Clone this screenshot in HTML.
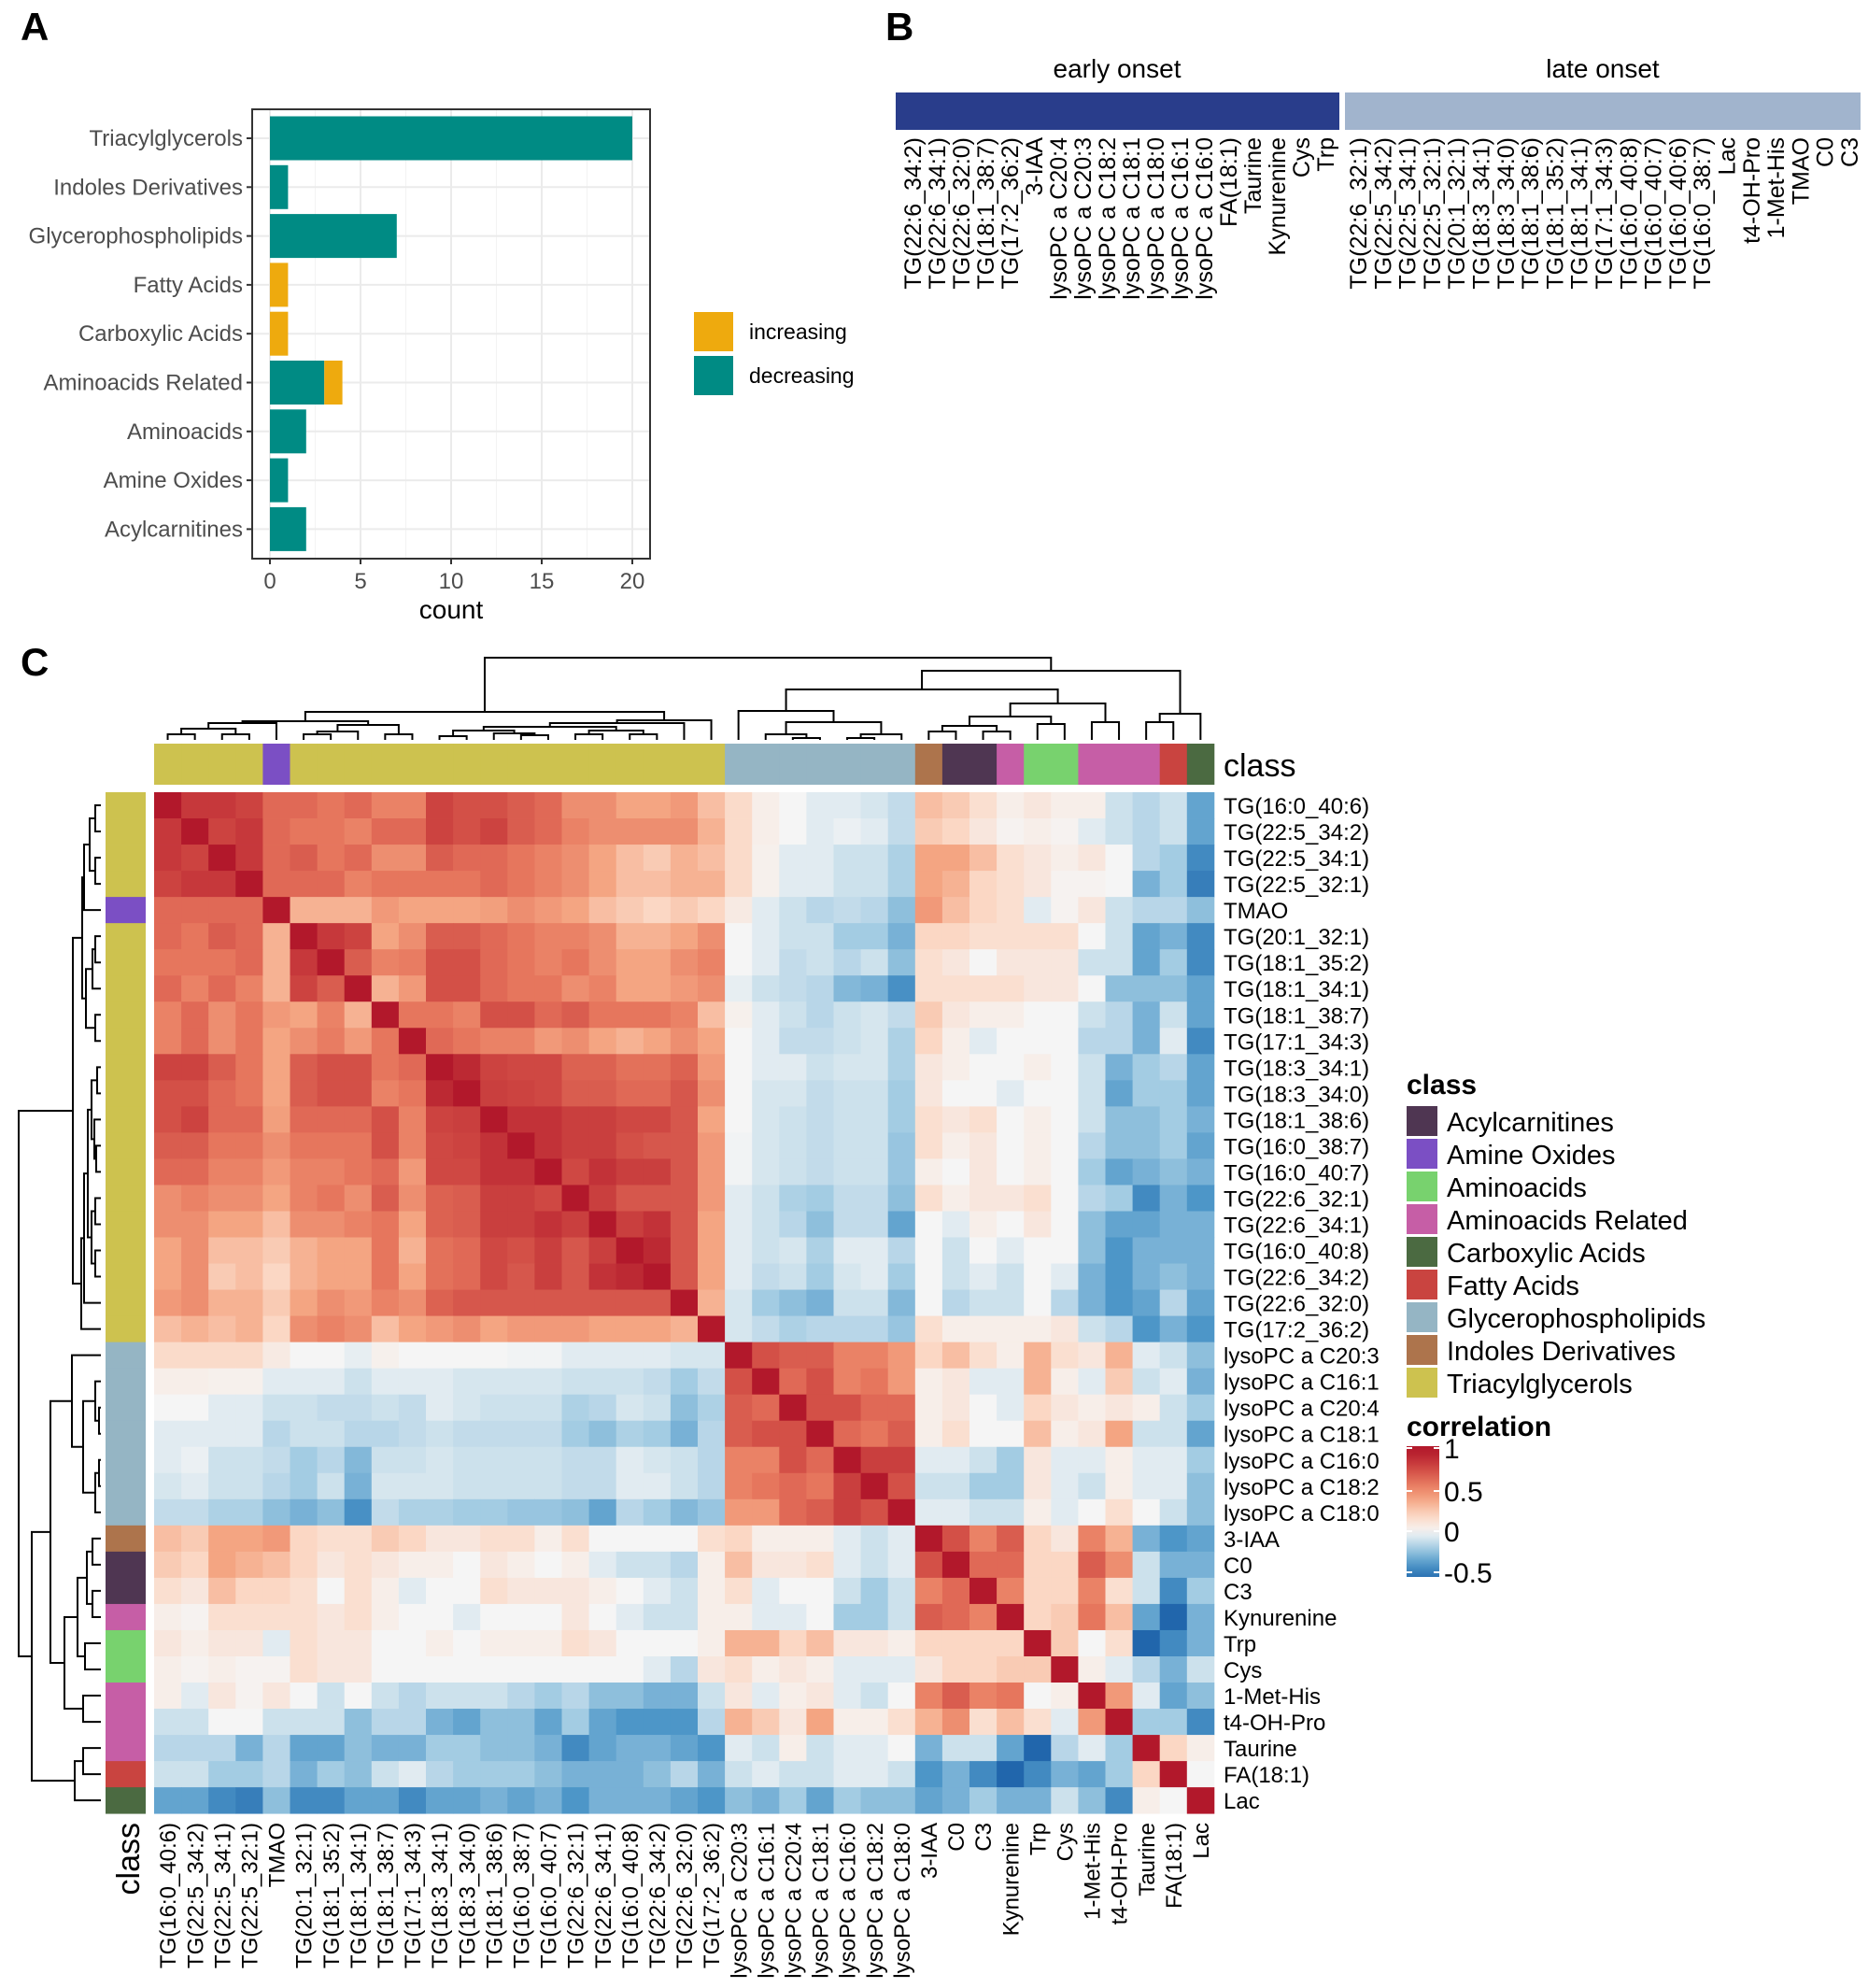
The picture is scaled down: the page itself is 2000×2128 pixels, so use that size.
<!DOCTYPE html>
<html><head><meta charset="utf-8"><style>
html,body{margin:0;padding:0;background:#fff}
svg{display:block}
text{font-family:"Liberation Sans",Arial,sans-serif}
</style></head><body>
<svg id="s" width="2000" height="2128" viewBox="0 0 2000 2128" xmlns="http://www.w3.org/2000/svg">
<rect width="2000" height="2128" fill="#fff"/>
<text x="22" y="43" font-size="42" font-weight="bold">A</text>
<text x="948" y="43" font-size="42" font-weight="bold">B</text>
<text x="22" y="723" font-size="42" font-weight="bold">C</text>
<g id="A"></g>
<g id="B"></g>
<g id="C"></g>
</svg>
<script>
const NS="http://www.w3.org/2000/svg";
function el(parent,tag,attrs,txt){const e=document.createElementNS(NS,tag);for(const k in attrs)e.setAttribute(k,attrs[k]);if(txt!==undefined)e.textContent=txt;parent.appendChild(e);return e;}
// ---------- Panel A ----------
const A=document.getElementById('A');
const px0=270,px1=696,py0=117,py1=598;
const xs=v=>289+v*19.4;
el(A,'rect',{x:px0,y:py0,width:px1-px0,height:py1-py0,fill:'#fff'});
for(let v=0;v<=20;v+=2.5){el(A,'line',{x1:xs(v),x2:xs(v),y1:py0,y2:py1,stroke:(v%5==0)?'#ebebeb':'#f3f3f3','stroke-width':(v%5==0)?2:1});}
const cats=[["Triacylglycerols",20,0],["Indoles Derivatives",1,0],["Glycerophospholipids",7,0],["Fatty Acids",0,1],["Carboxylic Acids",0,1],["Aminoacids Related",3,1],["Aminoacids",2,0],["Amine Oxides",1,0],["Acylcarnitines",2,0]];
cats.forEach((c,k)=>{const cy=148+k*52.3;
 el(A,'line',{x1:px0,x2:px1,y1:cy,y2:cy,stroke:'#ebebeb','stroke-width':2});
});
cats.forEach((c,k)=>{const cy=148+k*52.3;
 if(c[1]>0)el(A,'rect',{x:xs(0),y:cy-23.5,width:c[1]*19.4,height:47,fill:'#008b84'});
 if(c[2]>0)el(A,'rect',{x:xs(c[1]),y:cy-23.5,width:c[2]*19.4,height:47,fill:'#eeaa0e'});
 el(A,'line',{x1:px0-6,x2:px0,y1:cy,y2:cy,stroke:'#333','stroke-width':2});
 el(A,'text',{x:px0-10,y:cy+8,'font-size':24,'text-anchor':'end',fill:'#4d4d4d'},c[0]);
});
el(A,'rect',{x:px0,y:py0,width:px1-px0,height:py1-py0,fill:'none',stroke:'#333','stroke-width':2});
[0,5,10,15,20].forEach(v=>{el(A,'line',{x1:xs(v),x2:xs(v),y1:py1,y2:py1+6,stroke:'#333','stroke-width':2});
 el(A,'text',{x:xs(v),y:630,'font-size':24,'text-anchor':'middle',fill:'#4d4d4d'},v);});
el(A,'text',{x:483,y:662,'font-size':28,'text-anchor':'middle'},'count');
el(A,'rect',{x:743,y:334,width:42,height:42,fill:'#eeaa0e'});
el(A,'rect',{x:743,y:381,width:42,height:42,fill:'#008b84'});
el(A,'text',{x:802,y:363,'font-size':23},'increasing');
el(A,'text',{x:802,y:410,'font-size':23},'decreasing');
// ---------- Panel B ----------
const B=document.getElementById('B');
el(B,'rect',{x:959,y:99,width:475,height:40,fill:'#293d8b'});
el(B,'rect',{x:1440,y:99,width:552,height:40,fill:'#a1b4cd'});
el(B,'text',{x:1196,y:83,'font-size':28,'text-anchor':'middle'},'early onset');
el(B,'text',{x:1716,y:83,'font-size':28,'text-anchor':'middle'},'late onset');
const early=["TG(22:6_34:2)","TG(22:6_34:1)","TG(22:6_32:0)","TG(18:1_38:7)","TG(17:2_36:2)","3-IAA","lysoPC a C20:4","lysoPC a C20:3","lysoPC a C18:2","lysoPC a C18:1","lysoPC a C18:0","lysoPC a C16:1","lysoPC a C16:0","FA(18:1)","Taurine","Kynurenine","Cys","Trp"];
const late=["TG(22:6_32:1)","TG(22:5_34:2)","TG(22:5_34:1)","TG(22:5_32:1)","TG(20:1_32:1)","TG(18:3_34:1)","TG(18:3_34:0)","TG(18:1_38:6)","TG(18:1_35:2)","TG(18:1_34:1)","TG(17:1_34:3)","TG(16:0_40:8)","TG(16:0_40:7)","TG(16:0_40:6)","TG(16:0_38:7)","Lac","t4-OH-Pro","1-Met-His","TMAO","C0","C3"];
function vlab(g,x,y,t,fs){el(g,'text',{x:0,y:0,'font-size':fs,'text-anchor':'end',transform:`translate(${x+fs*0.36},${y}) rotate(-90)`},t);}
early.forEach((t,i)=>vlab(B,977+i*26,147,t,25));
late.forEach((t,i)=>vlab(B,1454+i*26.3,147,t,25));
// ---------- Panel C ----------
const C=document.getElementById('C');
const names=["TG(16:0_40:6)","TG(22:5_34:2)","TG(22:5_34:1)","TG(22:5_32:1)","TMAO","TG(20:1_32:1)","TG(18:1_35:2)","TG(18:1_34:1)","TG(18:1_38:7)","TG(17:1_34:3)","TG(18:3_34:1)","TG(18:3_34:0)","TG(18:1_38:6)","TG(16:0_38:7)","TG(16:0_40:7)","TG(22:6_32:1)","TG(22:6_34:1)","TG(16:0_40:8)","TG(22:6_34:2)","TG(22:6_32:0)","TG(17:2_36:2)","lysoPC a C20:3","lysoPC a C16:1","lysoPC a C20:4","lysoPC a C18:1","lysoPC a C16:0","lysoPC a C18:2","lysoPC a C18:0","3-IAA","C0","C3","Kynurenine","Trp","Cys","1-Met-His","t4-OH-Pro","Taurine","FA(18:1)","Lac"];
const COL={TG:'#cdc24f',AO:'#7b4fc4',GP:'#95b5c4',ID:'#ad744c',AC:'#4f3652',AR:'#c65ea6',AA:'#78d26e',FA:'#c94440',CA:'#4b6a41'};
const cls=[];for(let i=0;i<39;i++){cls.push(i==4?'AO':i<21?'TG':i<28?'GP':i==28?'ID':(i==29||i==30)?'AC':i==31?'AR':(i==32||i==33)?'AA':(i<=36)?'AR':i==37?'FA':'CA');}
const TGTG=[
[1,.85,.85,.8,.65,.65,.6,.65,.55,.55,.8,.75,.75,.7,.65,.5,.5,.4,.4,.45,.3],
[.85,1,.8,.85,.65,.6,.6,.55,.65,.65,.8,.75,.8,.7,.65,.55,.5,.5,.5,.5,.35],
[.85,.8,1,.85,.65,.7,.6,.65,.5,.5,.7,.65,.65,.6,.55,.5,.4,.3,.25,.35,.3],
[.8,.85,.85,1,.65,.65,.65,.55,.6,.6,.6,.6,.65,.6,.55,.5,.4,.3,.3,.35,.35],
[.65,.65,.65,.65,1,.35,.35,.35,.45,.4,.4,.4,.4,.5,.45,.4,.3,.25,.2,.25,.2],
[.65,.6,.7,.65,.35,1,.85,.8,.4,.5,.7,.7,.65,.6,.55,.55,.5,.35,.35,.4,.5],
[.6,.6,.6,.65,.35,.85,1,.7,.55,.7,.75,.75,.65,.6,.55,.6,.5,.4,.4,.5,.55],
[.65,.55,.65,.55,.35,.8,.7,1,.35,.45,.75,.75,.65,.6,.6,.5,.55,.4,.4,.45,.5],
[.55,.65,.5,.6,.45,.4,.55,.35,1,.6,.6,.55,.75,.75,.65,.7,.6,.6,.6,.55,.3],
[.55,.65,.5,.6,.4,.5,.45,.45,.6,1,.65,.6,.55,.55,.45,.5,.4,.35,.4,.5,.4],
[.8,.8,.7,.6,.4,.7,.75,.75,.6,.65,1,.92,.8,.78,.78,.68,.68,.62,.62,.68,.45],
[.75,.75,.65,.6,.4,.7,.75,.75,.55,.6,.92,1,.82,.8,.78,.7,.7,.65,.65,.72,.5],
[.75,.8,.65,.65,.45,.65,.65,.65,.75,.55,.8,.82,1,.88,.88,.82,.82,.78,.78,.72,.4],
[.7,.7,.6,.6,.5,.6,.6,.6,.75,.55,.78,.8,.88,1,.88,.82,.82,.75,.72,.72,.45],
[.65,.65,.55,.55,.45,.55,.55,.6,.65,.45,.78,.78,.88,.88,1,.78,.88,.82,.82,.72,.45],
[.5,.55,.5,.5,.4,.55,.6,.5,.7,.5,.68,.7,.82,.82,.78,1,.82,.72,.72,.72,.45],
[.5,.5,.4,.4,.3,.5,.5,.55,.6,.4,.68,.7,.82,.82,.88,.82,1,.82,.88,.72,.4],
[.4,.5,.3,.3,.25,.35,.4,.4,.6,.35,.62,.65,.78,.75,.82,.72,.82,1,.92,.72,.4],
[.4,.5,.25,.3,.2,.35,.4,.4,.6,.4,.62,.65,.78,.72,.82,.72,.88,.92,1,.72,.4],
[.45,.5,.35,.35,.25,.4,.5,.45,.55,.5,.68,.72,.72,.72,.72,.72,.72,.72,.72,1,.35],
[.3,.35,.3,.35,.2,.5,.55,.5,.3,.4,.45,.5,.4,.45,.45,.45,.4,.4,.4,.35,1]];
const TGL=[[.2,.05,0,-.05,-.05,-.05,-.1],[.2,.05,0,-.05,0,-.05,-.1],[.2,.02,-.05,-.05,-.1,-.1,-.15],[.2,.02,-.05,-.05,-.1,-.1,-.15],[.05,-.05,-.1,-.15,-.1,-.15,-.25],[0,-.05,-.1,-.1,-.2,-.2,-.3],[0,-.05,-.1,-.1,-.15,-.1,-.25],[-.05,-.1,-.1,-.15,-.25,-.3,-.4],[.02,-.05,-.1,-.15,-.1,-.05,-.1],[0,-.05,-.1,-.1,-.1,-.05,-.15],[0,-.05,-.05,-.1,-.05,-.05,-.15],[0,-.05,-.1,-.1,-.1,-.1,-.2],[0,-.05,-.1,-.1,-.1,-.1,-.2],[0,-.05,-.1,-.1,-.1,-.1,-.2],[0,-.05,-.1,-.1,-.1,-.1,-.2],[-.05,-.1,-.15,-.2,-.1,-.1,-.25],[-.05,-.1,-.1,-.25,-.1,-.1,-.35],[-.05,-.1,-.05,-.15,-.05,-.05,-.15],[-.05,-.1,-.1,-.2,-.05,-.05,-.2],[-.05,-.15,-.2,-.25,-.1,-.1,-.25],[-.1,-.15,-.15,-.2,-.15,-.15,-.2]];
const TGS=[[.3,.25,.15,.05,.1,.05,.05,-.1,-.15,-.1,-.35],[.25,.2,.1,.02,.05,.02,-.05,-.1,-.15,-.1,-.35],[.4,.4,.3,.15,.1,.05,.1,0,-.15,-.2,-.45],[.4,.35,.2,.15,.1,.02,.02,0,-.3,-.2,-.5],[.45,.3,.2,.15,-.05,.02,.1,-.1,-.15,-.15,-.25],[.2,.2,.15,.15,.15,.15,0,-.1,-.35,-.3,-.45],[.15,.1,0,.1,.1,.1,-.1,-.1,-.35,-.2,-.45],[.15,.15,.15,.15,.1,.1,0,-.25,-.25,-.25,-.35],[.25,.1,.05,.05,0,0,-.1,-.15,-.3,-.1,-.35],[.2,.05,-.05,0,0,0,-.15,-.15,-.3,-.05,-.45],[.1,.05,0,0,.05,0,-.1,-.3,-.2,-.15,-.35],[.1,0,0,-.05,0,0,-.1,-.35,-.2,-.2,-.35],[.15,.1,.15,0,.05,0,-.1,-.25,-.25,-.2,-.3],[.15,.05,.1,0,.05,0,-.15,-.25,-.25,-.2,-.35],[.05,0,.1,0,.05,0,-.2,-.35,-.3,-.25,-.3],[.15,.05,.1,.1,.15,0,-.15,-.2,-.45,-.3,-.4],[0,-.05,.05,0,.1,0,-.25,-.35,-.35,-.3,-.3],[0,-.1,0,-.05,0,0,-.25,-.4,-.3,-.3,-.3],[0,-.1,-.05,-.1,0,-.05,-.3,-.4,-.3,-.25,-.3],[0,-.15,-.1,-.1,0,-.15,-.3,-.4,-.35,-.15,-.35],[.15,.05,.05,.05,.05,.1,-.1,-.15,-.4,-.3,-.4]];
const LTG=[[.15,.15,.15,.15,.1,0,0,-.02,.05,0,0,0,0,-.02,-.02,-.05,-.05,-.05,-.05,-.1,-.05],[.05,.05,.05,.05,-.05,-.05,-.05,-.1,-.05,-.05,-.05,-.1,-.1,-.1,-.1,-.1,-.1,-.1,-.15,-.25,-.1],[0,0,-.05,-.05,-.1,-.1,-.15,-.15,-.1,-.15,-.05,-.05,-.1,-.1,-.1,-.2,-.2,-.1,-.1,-.3,-.2],[-.05,-.05,-.05,-.05,-.15,-.1,-.1,-.15,-.15,-.15,-.1,-.15,-.15,-.15,-.15,-.2,-.25,-.2,-.2,-.35,-.1],[-.05,-.05,-.1,-.1,-.15,-.2,-.15,-.3,-.1,-.1,-.1,-.1,-.1,-.1,-.1,-.15,-.15,-.05,-.1,-.1,-.15],[-.1,-.05,-.1,-.1,-.15,-.2,-.1,-.3,-.1,-.1,-.1,-.1,-.1,-.1,-.1,-.15,-.15,-.05,-.05,-.1,-.15],[-.15,-.15,-.2,-.2,-.25,-.3,-.25,-.45,-.15,-.2,-.2,-.2,-.2,-.25,-.25,-.25,-.35,-.15,-.2,-.3,-.25]];
const LL=[[1,.75,.7,.7,.55,.55,.45],[.75,1,.65,.75,.55,.6,.45],[.7,.65,1,.75,.75,.65,.65],[.7,.75,.75,1,.65,.6,.7],[.55,.55,.75,.65,1,.82,.82],[.55,.6,.65,.6,.82,1,.75],[.45,.45,.65,.7,.82,.75,1]];
const LS=[[.2,.3,.15,.05,.35,.15,.1,.35,-.05,-.1,-.25],[.05,.1,-.05,-.05,.35,.05,-.05,.25,-.1,-.05,-.3],[.05,.1,0,-.05,.2,.1,.05,.1,.05,-.1,-.2],[.05,.15,0,0,.3,.05,.1,.4,-.1,-.1,-.35],[-.05,-.05,-.1,-.2,.1,-.05,-.05,.05,-.05,-.05,-.2],[-.1,-.1,-.2,-.2,.1,-.05,-.1,.05,-.05,-.05,-.25],[-.05,-.05,-.1,-.1,.05,-.05,0,.15,0,-.1,-.25]];
const SS=[[1,.75,.55,.7,.2,.1,.55,.35,-.3,-.4,-.35],[.75,1,.65,.65,.2,.2,.7,.5,-.1,-.3,-.3],[.55,.65,1,.55,.2,.2,.55,.15,-.1,-.45,-.2],[.7,.65,.55,1,.2,.25,.6,.3,-.35,-.6,-.3],[.2,.2,.2,.2,1,.25,0,.15,-.6,-.45,-.3],[.1,.2,.2,.25,.25,1,.05,-.05,-.15,-.3,-.1],[.55,.7,.55,.6,0,.05,1,.45,-.05,-.35,-.25],[.35,.5,.15,.3,.15,-.05,.45,1,-.2,-.2,-.45],[-.3,-.1,-.1,-.35,-.6,-.15,-.05,-.2,1,.2,.05],[-.4,-.3,-.45,-.6,-.45,-.3,-.35,-.2,.2,1,0],[-.35,-.3,-.2,-.3,-.3,-.1,-.25,-.45,.05,0,1]];
const R=[];
for(let i=0;i<21;i++)R.push(TGTG[i].concat(TGL[i],TGS[i]));
for(let i=0;i<7;i++)R.push(LTG[i].concat(LL[i],LS[i]));
for(let i=0;i<11;i++){const tg=TGS.map(r=>r[i]);const l=LS.map(r=>r[i]);R.push(tg.concat(l,SS[i]));}
const M=[];for(let i=0;i<39;i++){M.push([]);for(let j=0;j<39;j++)M[i].push((R[i][j]+R[j][i])/2);}
const stops=[[-0.6,[33,102,172]],[-0.4,[77,150,200]],[-0.2,[163,204,227]],[0,[245,245,245]],[0.2,[251,215,196]],[0.4,[244,165,130]],[0.6,[230,118,93]],[0.8,[204,67,64]],[1,[178,24,43]]];
function cmap(v){if(v<=stops[0][0])return 'rgb('+stops[0][1]+')';for(let k=1;k<stops.length;k++){if(v<=stops[k][0]){const a=stops[k-1],b=stops[k];const t=(v-a[0])/(b[0]-a[0]);return 'rgb('+a[1].map((c,q)=>Math.round(c+(b[1][q]-c)*t)).join(',')+')';}}return 'rgb(178,24,43)';}
const hx=165,hy=848,cw=29.1,ch=28.03;
for(let i=0;i<39;i++)for(let j=0;j<39;j++)el(C,'rect',{x:(hx+j*cw).toFixed(2),y:(hy+i*ch).toFixed(2),width:(cw+0.4).toFixed(2),height:(ch+0.4).toFixed(2),fill:cmap(M[i][j])});
for(let j=0;j<39;j++){el(C,'rect',{x:(hx+j*cw).toFixed(2),y:796,width:(cw+0.4).toFixed(2),height:44,fill:COL[cls[j]]});
 el(C,'rect',{x:113,y:(hy+j*ch).toFixed(2),width:43,height:(ch+0.4).toFixed(2),fill:COL[cls[j]]});}
names.forEach((n,i)=>{el(C,'text',{x:1310,y:(hy+(i+0.5)*ch+9).toFixed(1),'font-size':24},n);
 vlab(C,hx+(i+0.5)*cw,1951,n,24);});
el(C,'text',{x:1310,y:831,'font-size':34},'class');
vlab(C,137,1951,'class',34);
const TGa=[[[0,1,6],[2,3,6],12],4,18];
const B1=[[[5,6,6],7,9],[8,9,6],16];
const B2=[[[[[10,11,4],[12,[13,14,5],7],10],[[15,16,6],[17,18,6],10],14],19,18],20,21];
const TGt=[[TGa,B1,20],B2,30];
const Ly=[21,[[22,[23,24,2],6],[[25,26,2],27,6],19],31];
const Sm=[[[[28,29,9],[30,31,9],15],[32,33,17],25],[34,35,19],39];
const root=[TGt,[[Ly,Sm,54],[[36,37,19],38,28],74],88];
function draw(node,mode){
 if(typeof node==='number'){return [mode=='top'?hx+(node+0.5)*cw:hy+(node+0.5)*ch,0];}
 const a=draw(node[0],mode),b=draw(node[1],mode),d=node[2];
 let pts;
 if(mode=='top'){const f=v=>792-v;pts=`${a[0]},${f(a[1])} ${a[0]},${f(d)} ${b[0]},${f(d)} ${b[0]},${f(b[1])}`;}
 else{const f=v=>108-v;pts=`${f(a[1])},${a[0]} ${f(d)},${a[0]} ${f(d)},${b[0]} ${f(b[1])},${b[0]}`;}
 el(C,'polyline',{points:pts,fill:'none',stroke:'#000','stroke-width':2});
 return [(a[0]+b[0])/2,d];}
draw(root,'top');draw(root,'left');
el(C,'text',{x:1506,y:1171,'font-size':30,'font-weight':'bold'},'class');
const leg=[['Acylcarnitines','AC'],['Amine Oxides','AO'],['Aminoacids','AA'],['Aminoacids Related','AR'],['Carboxylic Acids','CA'],['Fatty Acids','FA'],['Glycerophospholipids','GP'],['Indoles Derivatives','ID'],['Triacylglycerols','TG']];
leg.forEach((l,k)=>{const y=1184+k*35;el(C,'rect',{x:1506,y:y,width:33,height:32,fill:COL[l[1]]});el(C,'text',{x:1549,y:y+27,'font-size':29},l[0]);});
el(C,'text',{x:1506,y:1537,'font-size':30,'font-weight':'bold'},'correlation');
const defs=el(C,'defs',{});const lg=el(defs,'linearGradient',{id:'cg',x1:0,y1:1,x2:0,y2:0});
for(let k=0;k<=16;k++){const v=-0.55+k*0.1;el(lg,'stop',{offset:(k/16).toFixed(3),'stop-color':cmap(v)});}
el(C,'rect',{x:1506,y:1548,width:35,height:140,fill:'url(#cg)'});
[[1,1550],[0.5,1596],[0,1639],[-0.5,1683]].forEach(t=>{el(C,'line',{x1:1506,x2:1512,y1:t[1],y2:t[1],stroke:'#fff','stroke-width':2});el(C,'line',{x1:1535,x2:1541,y1:t[1],y2:t[1],stroke:'#fff','stroke-width':2});el(C,'text',{x:1546,y:t[1]+11,'font-size':30},t[0]);});
</script>
</body></html>
